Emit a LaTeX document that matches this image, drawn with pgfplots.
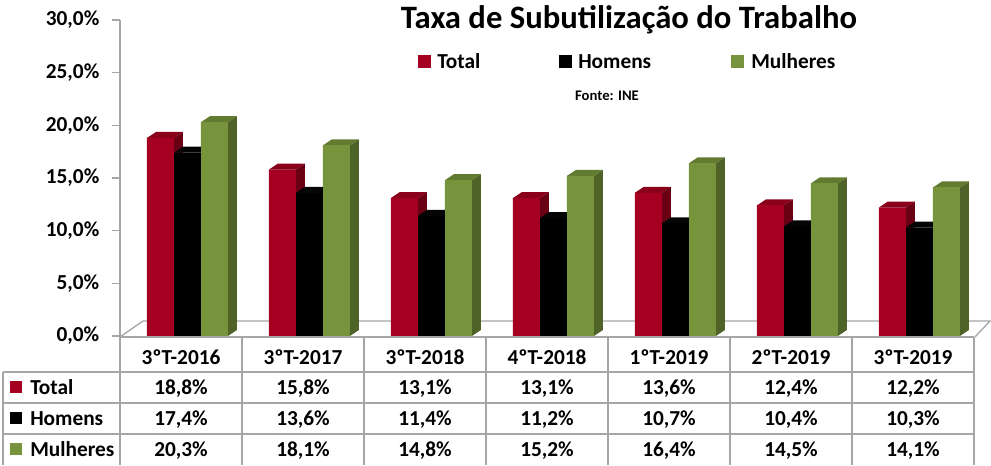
\documentclass[border=0pt]{standalone}
\usepackage{pgfplots}
\usepackage{pgfplotstable}
\pgfplotsset{compat=1.18}
\usepackage{fontspec}
\setmainfont{Carlito}
\pgfkeys{/pgf/number format/assume math mode=true}

\definecolor{totF}{HTML}{A50021}
\definecolor{totT}{HTML}{8A001B}
\definecolor{totS}{HTML}{690014}
\definecolor{homF}{HTML}{000000}
\definecolor{homT}{HTML}{050505}
\definecolor{homS}{HTML}{050505}
\definecolor{mulF}{HTML}{77933C}
\definecolor{mulT}{HTML}{627B31}
\definecolor{mulS}{HTML}{4F6228}
\definecolor{lineg}{HTML}{A6A6A6}

\newcommand\fbig{\fontsize{16}{19}\selectfont\bfseries}

% bar width 20.25pt, depth (6.75pt, 4.5pt), 7.9pt per percent
% the mark redraws the front face too, so later series cover earlier side faces
\newcommand\defbarmark[5]{%
  \pgfdeclareplotmark{#1}{%
    \pgfmathsetmacro\bh{\bv*7.9}%
    \pgfsetfillcolor{#4}%
    \pgfpathmoveto{\pgfpoint{#2pt+10.125pt}{0pt}}%
    \pgfpathlineto{\pgfpoint{#2pt+10.125pt}{-\bh pt}}%
    \pgfpathlineto{\pgfpoint{#2pt+16.875pt}{-\bh pt+4.5pt}}%
    \pgfpathlineto{\pgfpoint{#2pt+16.875pt}{4.5pt}}%
    \pgfpathclose
    \pgfusepath{fill}%
    \pgfsetfillcolor{#3}%
    \pgfpathmoveto{\pgfpoint{#2pt-10.125pt}{0pt}}%
    \pgfpathlineto{\pgfpoint{#2pt+10.125pt}{0pt}}%
    \pgfpathlineto{\pgfpoint{#2pt+16.875pt}{4.5pt}}%
    \pgfpathlineto{\pgfpoint{#2pt-3.375pt}{4.5pt}}%
    \pgfpathclose
    \pgfusepath{fill}%
    \pgfsetfillcolor{#5}%
    \pgfpathrectanglecorners{\pgfpoint{#2pt-10.125pt}{-\bh pt}}{\pgfpoint{#2pt+10.125pt}{0pt}}%
    \pgfusepath{fill}%
  }}
\defbarmark{tot3d}{-20.25}{totT}{totS}{totF}
\defbarmark{hom3d}{0}{homT}{homS}{homF}
\defbarmark{mul3d}{20.25}{mulT}{mulS}{mulF}

\pgfplotstableread{
x tot hom mul
0 18.8 17.4 20.3
1 15.8 13.6 18.1
2 13.1 11.4 14.8
3 13.1 11.2 15.2
4 13.6 10.7 16.4
5 12.4 10.4 14.5
6 12.2 10.3 14.1
}\data

\begin{document}
\begin{tikzpicture}[font=\fbig]
\begin{axis}[
  x=91.5pt, y=7.9pt,
  xmin=-0.553, xmax=6.455, ymin=0, ymax=30,
  axis x line=none, axis y line=left,
  axis line style={lineg, line width=1pt, -},
  ytick={0,5,...,30},
  tick align=outside, major tick length=6pt,
  tick style={lineg, line width=1pt},
  yticklabel={\pgfmathprintnumber[fixed,fixed zerofill,precision=1,use comma]{\tick}\%},
  yticklabel style={font=\fbig, xshift=-6pt},
  clip=false,
]
\coordinate (O) at (axis cs:-0.553,0);
% floor
\draw[lineg, line width=1pt] (axis cs:-0.553,-0.09) -- (axis cs:-0.365,1.42)
  -- (axis cs:6.578,1.42) -- (axis cs:6.455,-0.09);

\addplot[ybar, bar width=20.25pt, bar shift=-20.25pt, fill=totF, draw=none] table[x=x,y=tot]{\data};
\addplot[ybar, bar width=20.25pt, bar shift=0pt, fill=homF, draw=none] table[x=x,y=hom]{\data};
\addplot[ybar, bar width=20.25pt, bar shift=20.25pt, fill=mulF, draw=none] table[x=x,y=mul]{\data};
\addplot[only marks, mark=tot3d, visualization depends on={rawy \as \bv}] table[x=x,y=tot]{\data};
\addplot[only marks, mark=hom3d, visualization depends on={rawy \as \bv}] table[x=x,y=hom]{\data};
\addplot[only marks, mark=mul3d, visualization depends on={rawy \as \bv}] table[x=x,y=mul]{\data};
\end{axis}

\begin{scope}[shift={(O)}, xshift=-90pt, yshift=252pt, x=0.75pt, y=-0.75pt]
\path (0,0) rectangle (991,465);
% title, legend, source
\node[anchor=base, inner sep=0, font=\fontsize{24.5}{28}\selectfont\bfseries] at (629,28) {Taxa de Subutilização do Trabalho};
\fill[totF] (418,55) rectangle (431,68);
\node[anchor=base west, inner sep=0] at (437,68) {Total};
\fill[homF] (559,55) rectangle (572,68);
\node[anchor=base west, inner sep=0] at (578,68) {Homens};
\fill[mulF] (731,55) rectangle (744,68);
\node[anchor=base west, inner sep=0] at (751,68) {Mulheres};
\node[anchor=base, inner sep=0, font=\fontsize{11}{13}\selectfont\bfseries] at (607,100) {Fonte: INE};
% data table
\draw[lineg, line width=1.1pt] (120,337) -- (974,337);
\foreach \yy in {372,403,434} \draw[lineg, line width=1.1pt] (3,\yy) -- (974,\yy);
\draw[lineg, line width=1.1pt] (3,372) -- (3,465);
\foreach \k in {0,...,7} \draw[lineg, line width=1.1pt] ({120+122*\k},337) -- ({120+122*\k},465);
\foreach \lab [count=\c from 0] in {3ºT-2016,3ºT-2017,3ºT-2018,4ºT-2018,1ºT-2019,2ºT-2019,3ºT-2019}
  \node[anchor=base, inner sep=0] at ({181+122*\c},364) {\lab};
\foreach \col/\yb in {tot/394,hom/425,mul/456} {
  \foreach \i in {0,...,6} {
    \pgfplotstablegetelem{\i}{\col}\of\data
    \node[anchor=base, inner sep=0] at ({181+122*\i},\yb)
      {\pgfmathprintnumber[fixed,fixed zerofill,precision=1,use comma]{\pgfplotsretval}\%};
  }
}
\fill[totF] (10,381) rectangle (22,393);
\node[anchor=base west, inner sep=0] at (30,394) {Total};
\fill[homF] (10,412) rectangle (22,424);
\node[anchor=base west, inner sep=0] at (30,425) {Homens};
\fill[mulF] (10,443) rectangle (22,455);
\node[anchor=base west, inner sep=0] at (30,456) {Mulheres};
\end{scope}
\end{tikzpicture}
\end{document}
